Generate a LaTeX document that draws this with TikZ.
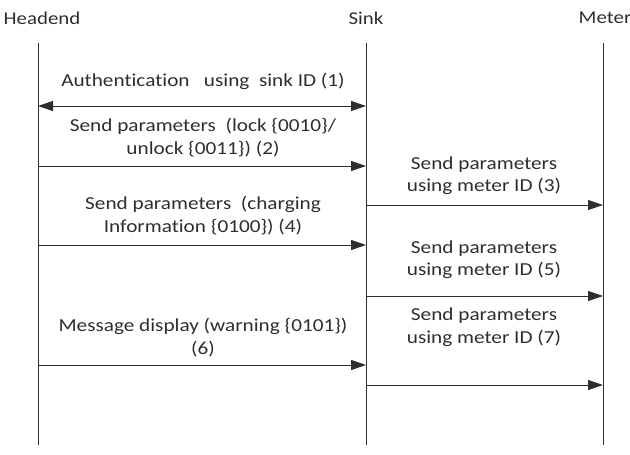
\documentclass[tikz,border=0pt]{standalone}
\usepackage{fontspec}
\setmainfont{Carlito}[FakeStretch=1.16,Ligatures=NoCommon]
\usetikzlibrary{arrows.meta}
\definecolor{ink}{HTML}{2E2E2E}
\begin{document}
\begin{tikzpicture}[x=1pt,y=-1pt,
  tip/.tip={Triangle[length=15pt,width=10pt]},
  lifeline/.style={draw=ink,line width=1pt},
  msg/.style={draw=ink,line width=1pt,-tip},
  biMsg/.style={msg,tip-tip},
  head/.style={text=ink,font=\fontsize{18}{22}\selectfont,inner sep=0pt},
  lbl/.style={text=ink,font=\fontsize{18.3}{22.5}\selectfont,align=center,inner sep=0pt}]
\useasboundingbox (0,0) rectangle (630,455);

% participants
\node[head] (headend) at (42,18) {Headend};
\node[head] (sink) at (366,18) {Sink};
\node[head] (meter) at (605,18) {Meter};

% lifelines
\coordinate (hTop) at (38,43);  \coordinate (hBot) at (38,445);
\coordinate (sTop) at (366,43); \coordinate (sBot) at (366,445);
\coordinate (mTop) at (603,43); \coordinate (mBot) at (603,445);
\draw[lifeline] (hTop) -- (hBot);
\draw[lifeline] (sTop) -- (sBot);
\draw[lifeline] (mTop) -- (mBot);

% message end points on the lifelines
\foreach \n/\y in {1/106,2/166,4/245,6/365}{
  \coordinate (h\n) at (38,\y);
  \coordinate (s\n) at (366,\y);
}
\foreach \n/\y in {3/205,5/296,7/385}{
  \coordinate (s\n) at (366,\y);
  \coordinate (m\n) at (603,\y);
}

% messages
\draw[biMsg] (h1) -- (s1);
\draw[msg] (h2) -- (s2);
\draw[msg] (s3) -- (m3);
\draw[msg] (h4) -- (s4);
\draw[msg] (s5) -- (m5);
\draw[msg] (h6) -- (s6);
\draw[msg] (s7) -- (m7);

% message labels
\node[lbl] (l1) at (203,81) {Authentication\ \ \ using\ \ sink ID (1)};
\node[lbl] (l2) at (203,137.5) {Send parameters\ \ (lock \{0010\}/\\unlock \{0011\}) (2)};
\node[lbl] (l3) at (484,175.5) {Send parameters\\using meter ID (3)};
\node[lbl] (l4) at (203,215.5) {Send parameters\ \ (charging\\Information \{0100\}) (4)};
\node[lbl] (l5) at (484,259.5) {Send parameters\\using meter ID (5)};
\node[lbl] (l6) at (203,337.5) {Message display (warning \{0101\})\\(6)};
\node[lbl] (l7) at (484,327) {Send parameters\\using meter ID (7)};
\end{tikzpicture}
\end{document}
